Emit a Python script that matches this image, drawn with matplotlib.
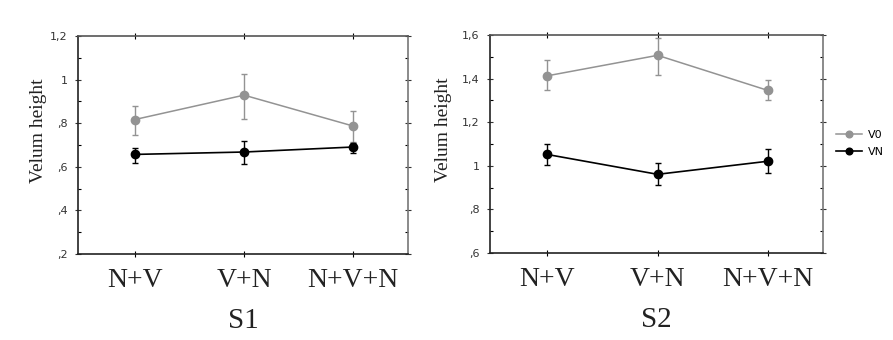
import matplotlib
matplotlib.use("Agg")
import matplotlib.pyplot as plt
from matplotlib.ticker import MultipleLocator, FuncFormatter
import numpy as np

categories = ["N+V", "V+N", "N+V+N"]
series_names = ["V0", "VN"]

s1_v0 = [0.817, 0.929, 0.787]
s1_v0_hi = [0.878, 1.025, 0.857]
s1_v0_lo = [0.746, 0.820, 0.715]
s1_vn = [0.657, 0.668, 0.691]
s1_vn_hi = [0.685, 0.718, 0.708]
s1_vn_lo = [0.619, 0.613, 0.662]

s2_v0 = [1.413, 1.507, 1.346]
s2_v0_hi = [1.485, 1.585, 1.393]
s2_v0_lo = [1.350, 1.416, 1.300]
s2_vn = [1.052, 0.961, 1.021]
s2_vn_hi = [1.100, 1.013, 1.075]
s2_vn_lo = [1.006, 0.912, 0.969]

panel_titles = ["S1", "S2"]
y_label = "Velum height"

GRAY = "#939393"
BLACK = "#000000"

def fmt(v, pos):
    s = ("%.1f" % v).rstrip("0").rstrip(".")
    if s.startswith("0."):
        s = s[1:]
    return s.replace(".", ",")

fig = plt.figure(figsize=(8.93, 3.40), dpi=100)
fig.patch.set_facecolor("white")

ax1 = fig.add_axes([0.0873, 0.2529, 0.3695, 0.641])
ax2 = fig.add_axes([0.5487, 0.2559, 0.3729, 0.641])

panels = [
    (ax1, s1_v0, s1_v0_lo, s1_v0_hi, s1_vn, s1_vn_lo, s1_vn_hi, (0.2, 1.2), panel_titles[0], -0.095),
    (ax2, s2_v0, s2_v0_lo, s2_v0_hi, s2_vn, s2_vn_lo, s2_vn_hi, (0.6, 1.6), panel_titles[1], -0.115),
]

x = np.arange(len(categories))
serif = ["Liberation Serif", "DejaVu Serif"]
handles = []
for ax, v0, v0lo, v0hi, vn, vnlo, vnhi, ylim, title, lx in panels:
    v0 = np.array(v0); vn = np.array(vn)
    e0 = [v0 - np.array(v0lo), np.array(v0hi) - v0]
    en = [vn - np.array(vnlo), np.array(vnhi) - vn]
    h0 = ax.errorbar(x, v0, yerr=e0, color=GRAY, ecolor=GRAY, marker="o",
                     markersize=6, lw=1.1, elinewidth=1.0, capsize=2, capthick=1.0,
                     label=series_names[0])
    h1 = ax.errorbar(x, vn, yerr=en, color=BLACK, ecolor=BLACK, marker="o",
                     markersize=6, lw=1.2, elinewidth=1.0, capsize=2, capthick=1.0,
                     label=series_names[1])
    handles = [h0.lines[0], h1.lines[0]]
    ax.set_xlim(-0.52, 2.5)
    ax.set_ylim(*ylim)
    ax.set_xticks(x)
    ax.set_xticklabels(categories, fontsize=20, family=serif, color="#222222")
    ax.yaxis.set_major_locator(MultipleLocator(0.2))
    ax.yaxis.set_minor_locator(MultipleLocator(0.1))
    ax.yaxis.set_major_formatter(FuncFormatter(fmt))
    ax.tick_params(axis="y", which="major", labelsize=8, direction="inout", length=5,
                   width=0.8, right=True, pad=5, colors="#333333")
    ax.tick_params(axis="y", which="minor", direction="in", length=2.5, width=0.8, right=True)
    ax.tick_params(axis="x", which="major", direction="inout", length=4, width=0.8,
                   top=True, pad=8)
    for sp in ax.spines.values():
        sp.set_linewidth(1.2)
        sp.set_color("#222222")
    ax.spines["right"].set_color("#777777")
    ax.spines["top"].set_color("#555555")
    ax.set_ylabel(y_label, fontsize=14, family=serif, color="#222222")
    ax.yaxis.set_label_coords(lx, 0.565)
    ax.set_xlabel(title, fontsize=21, family=serif, labelpad=11, color="#222222")

fig.legend(handles=handles, labels=series_names, loc="center left",
           bbox_to_anchor=(0.930, 0.578), frameon=False, fontsize=8,
           handlelength=2.3, handletextpad=0.6, labelspacing=0.7, borderpad=0,
           markerscale=0.8)

fig.savefig("out.png", dpi=100, facecolor="white")
